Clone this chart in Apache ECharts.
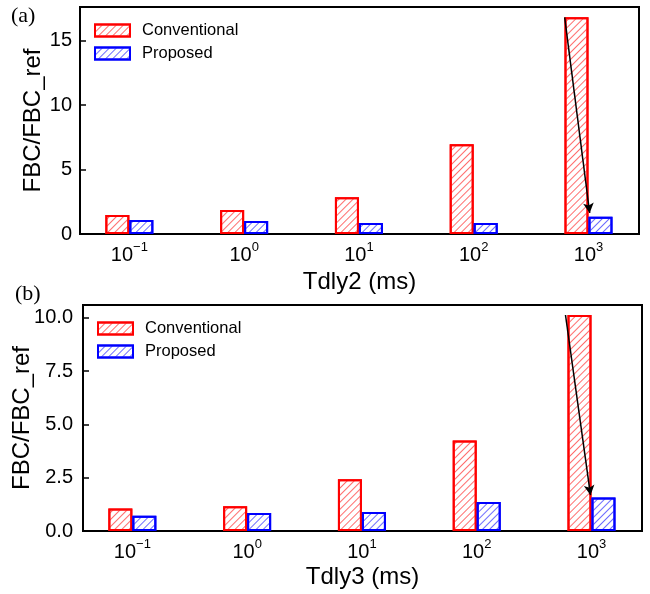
<!DOCTYPE html>
<html><head><meta charset="utf-8">
<script src="https://cdn.jsdelivr.net/npm/echarts@6/dist/echarts.min.js"></script>
<style>html,body{margin:0;padding:0;background:#fff}#c{width:650px;height:594px}</style>
</head><body><div id="c"></div>
<script>
// Data
var exponents = [-1, 0, 1, 2, 3];               // x positions: Tdly = 10^exponent ms
var convA = [1.47, 1.86, 2.85, 6.96, 16.8];     // panel (a) Conventional
var propA = [1.09, 1.00, 0.85, 0.85, 1.34];     // panel (a) Proposed
var convB = [1.05, 1.16, 2.43, 4.24, 10.13];    // panel (b) Conventional
var propB = [0.72, 0.85, 0.89, 1.36, 1.57];     // panel (b) Proposed
var yTicksA = [0, 5, 10, 15];
var yTicksB = [0, 2.5, 5, 7.5, 10];
var xNameA = 'Tdly2 (ms)';
var xNameB = 'Tdly3 (ms)';
var yName = 'FBC/FBC_ref';
var arrowA = [[2.897, 16.8], [3.115, 1.63]];
var arrowB = [[2.878, 10.13], [3.096, 1.68]];

var FONT = 'Liberation Sans';
function pairs(xs, ys){ return xs.map(function(x,i){ return [x, ys[i]]; }); }
function decal(c){ return {symbol:'rect', symbolSize:1, dashArrayX:[1,0], dashArrayY:[1,4], rotation:-Math.PI/4, color:c}; }
function xAxis(gi, name, gap){
  return {type:'value', gridIndex:gi, min:-1.43, max:3.44,
    name:name, nameLocation:'middle', nameGap:gap, nameMoveOverlap:false,
    nameTextStyle:{fontFamily:FONT, fontSize:24, color:'#000'},
    axisLine:{onZero:false, lineStyle:{color:'#000', width:2}},
    axisTick:{inside:true, length:6, lineStyle:{color:'#000', width:1.5}, customValues:exponents},
    splitLine:{show:false},
    axisLabel:{margin:7, customValues:exponents, fontFamily:FONT, color:'#000',
      formatter:function(v){ var e = v < 0 ? '\u2212' + Math.abs(v) : String(v); return '{b|10}{s|' + e + '}'; },
      rich:{b:{fontFamily:FONT, fontSize:20, lineHeight:20, padding:[8,0,0,0], color:'#000'},
            s:{fontFamily:FONT, fontSize:13, lineHeight:13, verticalAlign:'top', color:'#000'}}}
  };
}
function yAxis(gi, max, ticks, dec, gap, margin){
  return {type:'value', gridIndex:gi, min:0, max:max,
    name:yName, nameLocation:'middle', nameGap:gap, nameMoveOverlap:false,
    nameTextStyle:{fontFamily:FONT, fontSize:24, color:'#000'},
    axisLine:{show:true, onZero:false, lineStyle:{color:'#000', width:2}},
    axisTick:{show:true, inside:true, length:6, lineStyle:{color:'#000', width:1.5}, customValues:ticks},
    splitLine:{show:false},
    axisLabel:{margin:margin, customValues:ticks, fontFamily:FONT, fontSize:20, color:'#000',
      formatter:function(v){ return v.toFixed(dec); }}
  };
}
function bar(name, gi, xs, ys, col, hatch, arrow){
  var s = {type:'bar', name:name, xAxisIndex:gi, yAxisIndex:gi, data:pairs(xs, ys),
    barWidth:24, barGap:'0%',
    itemStyle:{color:'#fff', borderColor:col, borderWidth:2, decal:decal(hatch)},
    emphasis:{disabled:true}, animation:false};
  if (arrow) {
    s.markLine = {silent:true, symbol:['none','arrow'], symbolSize:[8,10], animation:false,
      label:{show:false}, lineStyle:{color:'#000', width:1.5, type:'solid'},
      data:[[{coord:arrow[0]}, {coord:arrow[1]}]]};
  }
  return s;
}
function legend(left, top){
  return {orient:'vertical', left:left, top:top, itemWidth:35, itemHeight:12, itemGap:6,
    icon:'rect', selectedMode:false,
    textStyle:{fontFamily:FONT, fontSize:16.5, color:'#000', padding:[0,0,0,7]},
    data:['Conventional','Proposed']};
}
var chart = echarts.init(document.getElementById('c'), null, {renderer:'canvas'});
chart.setOption({
  backgroundColor:'#fff',
  animation:false,
  grid:[
    {left:80, top:7, width:559, height:227, show:true, borderColor:'#000', borderWidth:2, backgroundColor:'transparent'},
    {left:83, top:305, width:559, height:226, show:true, borderColor:'#000', borderWidth:2, backgroundColor:'transparent'}
  ],
  legend:[legend(89, 17), legend(92, 315)],
  xAxis:[xAxis(0, xNameA, 36), xAxis(1, xNameB, 34)],
  yAxis:[yAxis(0, 17.6, yTicksA, 0, 35, 8), yAxis(1, 10.6, yTicksB, 1, 49, 10)],
  series:[
    bar('Conventional', 0, exponents, convA, '#ff0000', 'rgba(255,60,60,0.75)', arrowA),
    bar('Proposed', 0, exponents, propA, '#0000ff', 'rgba(60,60,255,0.75)'),
    bar('Conventional', 1, exponents, convB, '#ff0000', 'rgba(255,60,60,0.75)', arrowB),
    bar('Proposed', 1, exponents, propB, '#0000ff', 'rgba(60,60,255,0.75)')
  ],
  graphic:[
    {type:'text', left:11, top:5, style:{text:'(a)', font:'22px "Liberation Serif"', fill:'#000'}},
    {type:'text', left:15, top:283, style:{text:'(b)', font:'22px "Liberation Serif"', fill:'#000'}}
  ]
});
</script></body></html>
